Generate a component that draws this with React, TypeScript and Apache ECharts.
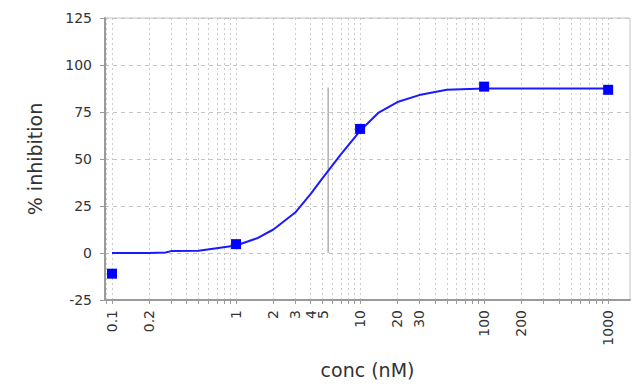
import React, { useEffect, useRef } from "react";
import * as echarts from "echarts";

// Measured data points (conc nM, % inhibition)
const pointConc = [0.1, 1, 10, 100, 1000];
const pointInhib = [-11, 4.7, 66, 88.5, 86.8];

// Fitted curve
const curveConc = [0.1, 0.2, 0.27, 0.3, 0.5, 1, 1.5, 2, 3, 4, 5, 7, 10, 14, 20, 30, 50, 100, 1000];
const curveInhib = [0, 0, 0.3, 1, 1.2, 4, 8, 12.5, 21.5, 31.5, 40, 52.5, 65, 74.5, 80.3, 84, 86.8, 87.5, 87.5];

// IC50 marker
const ic50Conc = 5.53;
const ic50Range = [0, 88];

// Axis ticks / labels
const xTickValues = [
  0.09, 0.1, 0.2, 0.3, 0.4, 0.5, 0.6, 0.7, 0.8, 0.9,
  1, 2, 3, 4, 5, 6, 7, 8, 9,
  10, 20, 30, 40, 50, 60, 70, 80, 90,
  100, 200, 300, 400, 500, 600, 700, 800, 900, 1000,
];
const xLabelValues = [0.1, 0.2, 1, 2, 3, 5, 10, 20, 30, 100, 200, 1000];
// label the library hides because it overlaps its neighbours; drawn on top
const xLabelValuesOverlap = [4];
const xMin = 0.0878;
const xMax = 1500;
const yMin = -25;
const yMax = 125;
const yInterval = 25;

const FONT = "DejaVu Sans";
const LABEL_MARGIN = 10;

export default function App() {
  const ref = useRef<HTMLDivElement>(null);
  useEffect(() => {
    if (!ref.current) return;
    const chart = echarts.init(ref.current, undefined, { renderer: "svg" });
    const fmt = (v: number) => String(+Number(v).toPrecision(6));
    chart.setOption({
      animation: false,
      backgroundColor: "#ffffff",
      grid: {
        left: 105,
        top: 18,
        right: 5,
        bottom: 83,
        show: true,
        borderColor: "#c4c4c4",
        borderWidth: 1,
        backgroundColor: "transparent",
      },
      xAxis: {
        type: "log",
        min: xMin,
        max: xMax,
        name: "conc (nM)",
        nameLocation: "middle",
        nameGap: 60,
        nameTextStyle: { fontFamily: FONT, fontSize: 19, color: "#333" },
        axisLine: { show: true, onZero: false, lineStyle: { color: "#9a9a9a", width: 2 } },
        axisTick: {
          show: true,
          length: 4,
          customValues: xTickValues,
          lineStyle: { color: "#9a9a9a", width: 1 },
        },
        axisLabel: {
          customValues: xLabelValues,
          rotate: 90,
          margin: LABEL_MARGIN,
          fontFamily: FONT,
          fontSize: 14,
          color: "#333",
          formatter: fmt,
        },
        splitLine: {
          show: true,
          lineStyle: { color: "#cccccc", type: [2, 3], width: 1 },
        },
        minorTick: { show: false },
        minorSplitLine: { show: false },
      },
      yAxis: {
        type: "value",
        min: yMin,
        max: yMax,
        interval: yInterval,
        name: "% inhibition",
        nameLocation: "middle",
        nameGap: 61,
        nameTextStyle: { fontFamily: FONT, fontSize: 19, color: "#333" },
        axisLine: { show: true, onZero: false, lineStyle: { color: "#9a9a9a", width: 2 } },
        axisTick: { show: true, length: 5, lineStyle: { color: "#9a9a9a" } },
        axisLabel: { margin: 13, fontFamily: FONT, fontSize: 14, color: "#333" },
        splitLine: {
          show: true,
          lineStyle: { color: "#c4c4c4", type: [4, 4], width: 1 },
        },
      },
      series: [
        {
          type: "line",
          data: [
            [ic50Conc, ic50Range[0]],
            [ic50Conc, ic50Range[1]],
          ],
          showSymbol: false,
          symbol: "none",
          lineStyle: { color: "#b0b0b0", width: 1.5 },
          silent: true,
          z: 2,
        },
        {
          type: "line",
          data: curveConc.map((c, i) => [c, curveInhib[i]]),
          showSymbol: false,
          symbol: "none",
          lineStyle: { color: "#1a1aff", width: 2 },
          z: 3,
        },
        {
          type: "scatter",
          data: pointConc.map((c, i) => [c, pointInhib[i]]),
          symbol: "rect",
          symbolSize: 10,
          itemStyle: { color: "#0000ff", opacity: 1 },
          z: 4,
        },
      ],
    });
    const extra = xLabelValuesOverlap.map((v) => {
      const p = chart.convertToPixel({ xAxisIndex: 0, yAxisIndex: 0 }, [v, yMin]) as number[];
      return {
        type: "text",
        x: p[0],
        y: p[1] + LABEL_MARGIN,
        rotation: Math.PI / 2,
        z: 10,
        style: {
          text: fmt(v),
          fontFamily: FONT,
          fontSize: 14,
          fill: "#333",
          align: "right",
          verticalAlign: "middle",
        },
      };
    });
    chart.setOption({ graphic: extra });
    return () => chart.dispose();
  }, []);
  return (
    <div
      ref={ref}
      style={{ position: "fixed", left: 0, top: 0, width: 635, height: 384 }}
    />
  );
}
